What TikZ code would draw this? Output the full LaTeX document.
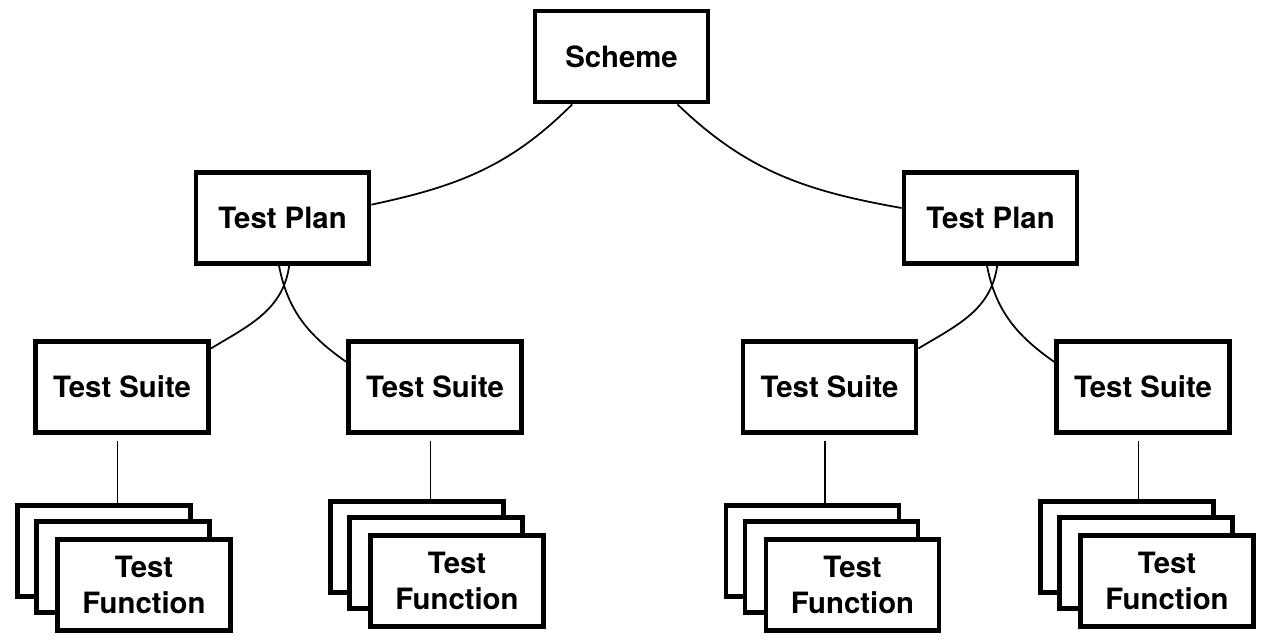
\documentclass[tikz,border=0pt]{standalone}
\usepackage{fontspec}
\setmainfont{TeX Gyre Heros}
\usepackage{tikz}

\tikzset{
  box/.style={draw, line width=3.3pt, fill=white, minimum width=130pt,
    minimum height=68.5pt, inner sep=0pt, align=center,
    font=\fontsize{22}{26.5}\selectfont\bfseries},
  link/.style={line width=1.3pt}
}

\begin{document}
\begin{tikzpicture}[x=0.75pt,y=0.75pt]
  \useasboundingbox (0,0) rectangle (1269,-643);

  \node [box] (scheme) at (621.5,-56.5) {Scheme};
  \node [box] (planl) at (282.5,-218) {Test Plan};
  \node [box] (planr) at (990.5,-218) {Test Plan};

  \node [box] (suite1) at (122,-387) {Test Suite};
  \node [box] (suite2) at (435,-387) {Test Suite};
  \node [box] (suite3) at (829.5,-387) {Test Suite};
  \node [box] (suite4) at (1143,-387) {Test Suite};

  % stacked function boxes, back to front
  \node [box] (fn1c) at (104,-551) {};
  \node [box] (fn1b) at (123,-567) {};
  \node [box] (fn1) at (144,-585) {Test\\Function};

  \node [box] (fn2c) at (417,-547) {};
  \node [box] (fn2b) at (436,-563) {};
  \node [box] (fn2) at (457,-581) {Test\\Function};

  \node [box] (fn3c) at (812.5,-551) {};
  \node [box] (fn3b) at (831.5,-567) {};
  \node [box] (fn3) at (852.5,-585) {Test\\Function};

  \node [box] (fn4c) at (1127,-547) {};
  \node [box] (fn4b) at (1146,-563) {};
  \node [box] (fn4) at (1167,-581) {Test\\Function};

  \draw [link] ([xshift=-37pt]scheme.south) to [out=-135,in=12] ([yshift=10pt]planl.east);
  \draw [link] ([xshift=42pt]scheme.south) to [out=-44,in=170] ([yshift=7.5pt]planr.west);

  \draw [link] ([xshift=5pt]planl.south) to [out=-98,in=31] ([yshift=-7pt]suite1.north east);
  \draw [link] ([xshift=-2.6pt]planl.south) to [out=-79,in=145] ([yshift=-17pt]suite2.north west);
  \draw [link] ([xshift=5pt]planr.south) to [out=-98,in=31] ([yshift=-7pt]suite3.north east);
  \draw [link] ([xshift=-2.6pt]planr.south) to [out=-79,in=145] ([yshift=-17pt]suite4.north west);

  \draw [link] ([xshift=-3.4pt,yshift=-4.5pt]suite1.south) -- ([xshift=-3.4pt]suite1.south |- fn1c.north);
  \draw [link] ([xshift=-3.4pt,yshift=-4.5pt]suite2.south) -- ([xshift=-3.4pt]suite2.south |- fn2c.north);
  \draw [link] ([xshift=-3.4pt,yshift=-4.5pt]suite3.south) -- ([xshift=-3.4pt]suite3.south |- fn3c.north);
  \draw [link] ([xshift=-3.4pt,yshift=-4.5pt]suite4.south) -- ([xshift=-3.4pt]suite4.south |- fn4c.north);
\end{tikzpicture}
\end{document}
